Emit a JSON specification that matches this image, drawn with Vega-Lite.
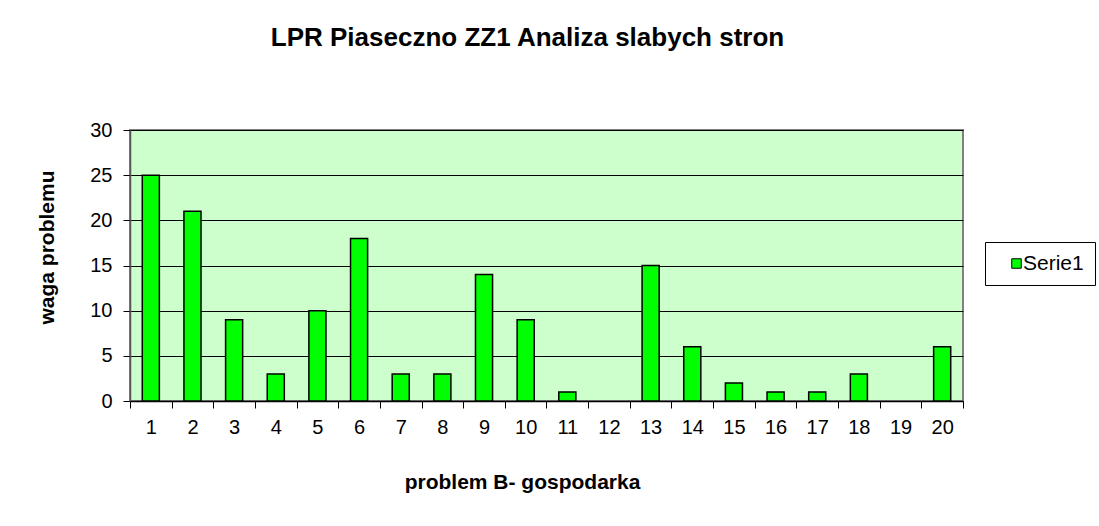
{
  "$schema": "https://vega.github.io/schema/vega-lite/v6.json",
  "autosize": "none",
  "width": 833,
  "height": 271,
  "padding": {"left": 130, "top": 130, "right": 136, "bottom": 125},
  "background": "white",
  "config": {
    "font": "Liberation Sans",
    "view": {"fill": "#ccffcc", "stroke": "#808080", "strokeWidth": 2}
  },
  "title": {
    "text": "LPR Piaseczno ZZ1 Analiza slabych stron",
    "fontSize": 26,
    "fontWeight": "bold",
    "font": "Liberation Sans",
    "color": "black",
    "anchor": "middle",
    "dx": -19,
    "offset": 69
  },
  "data": {
    "values": [
      {"problem": "1", "waga": 25, "series": "Serie1"},
      {"problem": "2", "waga": 21, "series": "Serie1"},
      {"problem": "3", "waga": 9, "series": "Serie1"},
      {"problem": "4", "waga": 3, "series": "Serie1"},
      {"problem": "5", "waga": 10, "series": "Serie1"},
      {"problem": "6", "waga": 18, "series": "Serie1"},
      {"problem": "7", "waga": 3, "series": "Serie1"},
      {"problem": "8", "waga": 3, "series": "Serie1"},
      {"problem": "9", "waga": 14, "series": "Serie1"},
      {"problem": "10", "waga": 9, "series": "Serie1"},
      {"problem": "11", "waga": 1, "series": "Serie1"},
      {"problem": "12", "waga": 0, "series": "Serie1"},
      {"problem": "13", "waga": 15, "series": "Serie1"},
      {"problem": "14", "waga": 6, "series": "Serie1"},
      {"problem": "15", "waga": 2, "series": "Serie1"},
      {"problem": "16", "waga": 1, "series": "Serie1"},
      {"problem": "17", "waga": 1, "series": "Serie1"},
      {"problem": "18", "waga": 3, "series": "Serie1"},
      {"problem": "19", "waga": 0, "series": "Serie1"},
      {"problem": "20", "waga": 6, "series": "Serie1"}
    ]
  },
  "mark": {"type": "bar", "stroke": "black", "strokeWidth": 1.5, "width": {"band": 0.41}},
  "encoding": {
    "x": {
      "field": "problem",
      "type": "ordinal",
      "sort": null,
      "scale": {"paddingInner": 0, "paddingOuter": 0},
      "axis": {
        "title": "problem B- gospodarka",
        "titleFontSize": 21,
        "titleFontWeight": "bold",
        "titleColor": "black",
        "titleX": 392,
        "titleY": 81,
        "titleBaseline": "middle",
        "labelAngle": 0,
        "labelFontSize": 20,
        "labelColor": "black",
        "labelPadding": 9,
        "tickBand": "extent",
        "tickColor": "black",
        "tickSize": 7,
        "domainColor": "black",
        "domainWidth": 1.5
      }
    },
    "y": {
      "field": "waga",
      "type": "quantitative",
      "scale": {"domain": [0, 30], "nice": false},
      "axis": {
        "title": "waga problemu",
        "titleFontSize": 21,
        "titleFontWeight": "bold",
        "titleColor": "black",
        "titleX": -83,
        "titleY": 117,
        "titleAngle": -90,
        "titleAlign": "center",
        "titleBaseline": "middle",
        "values": [0, 5, 10, 15, 20, 25, 30],
        "labelFontSize": 20,
        "labelColor": "black",
        "labelPadding": 11,
        "tickColor": "black",
        "tickSize": 7,
        "domainColor": "#555555",
        "domainWidth": 1.5,
        "grid": true,
        "gridColor": "black",
        "gridWidth": 1
      }
    },
    "strokeOpacity": {
      "condition": {"test": "datum.waga == 0", "value": 0},
      "value": 1
    },
    "color": {
      "field": "series",
      "type": "nominal",
      "scale": {"range": ["#00ff00"]},
      "legend": {
        "title": " ",
        "titleOrient": "left",
        "titlePadding": 10,
        "titleFontSize": 4,
        "orient": "none",
        "legendX": 855,
        "legendY": 112,
        "symbolType": "square",
        "symbolSize": 90,
        "symbolStrokeColor": "black",
        "symbolStrokeWidth": 1,
        "symbolOpacity": 1,
        "labelFontSize": 21,
        "labelColor": "black",
        "labelOffset": -4,
        "padding": 11,
        "strokeColor": "black",
        "fillColor": "white"
      }
    }
  }
}
